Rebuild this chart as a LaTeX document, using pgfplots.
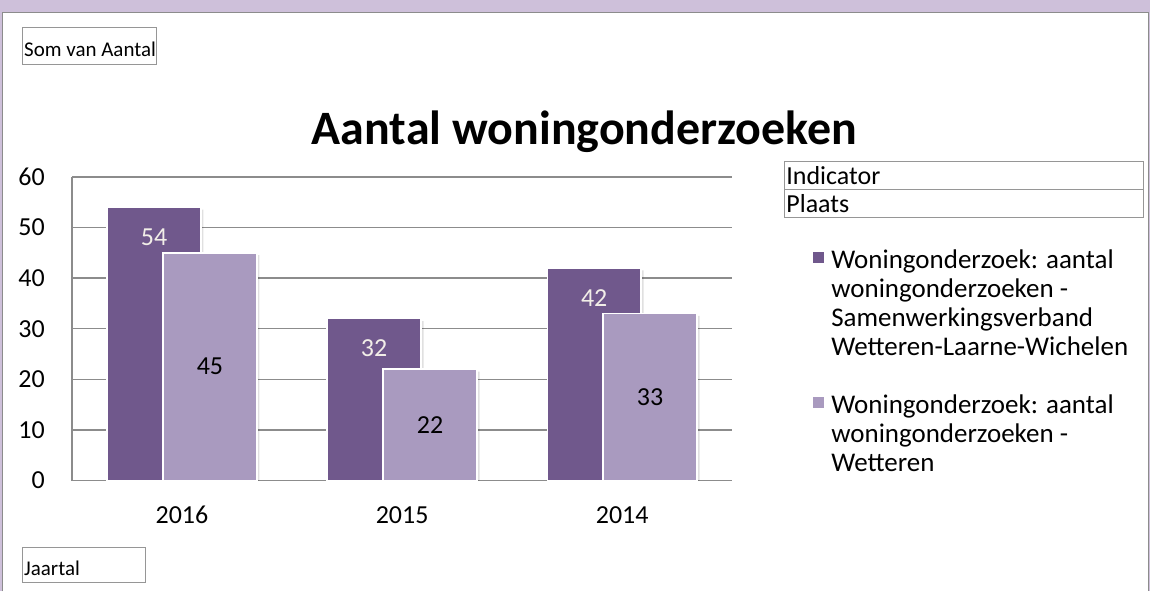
\documentclass[border=0pt]{standalone}
\usepackage{fontspec}
\setmainfont{Carlito}
\usepackage{pgfplots}
\pgfplotsset{compat=1.18}
\definecolor{dark}{RGB}{112,88,140}
\definecolor{light}{RGB}{169,154,191}
\definecolor{band}{RGB}{206,192,218}
\definecolor{gridc}{RGB}{140,140,140}
\definecolor{boxc}{RGB}{150,150,150}
\definecolor{lab}{RGB}{242,238,232}
\begin{document}
\begin{tikzpicture}
\fill[band] (0,0) rectangle (1151pt,-592pt);
\fill[white] (3pt,-13pt) rectangle (1149pt,-592pt);
\draw[gridc, line width=1.5pt] (2.5pt,-592pt) -- (2.5pt,-12.5pt) -- (1149.5pt,-12.5pt) -- (1149.5pt,-592pt);
% field buttons
\draw[boxc, line width=1pt] (23pt,-28pt) rectangle (157pt,-65pt);
\node[anchor=base west, inner sep=0pt, font=\fontsize{21}{25}\selectfont] at (24pt,-57pt) {Som van Aantal};
\draw[boxc, line width=1pt] (23pt,-548pt) rectangle (146pt,-583pt);
\node[anchor=base west, inner sep=0pt, font=\fontsize{21}{25}\selectfont] at (24pt,-576pt) {Jaartal};
\draw[boxc, line width=1pt] (785pt,-162pt) rectangle (1145pt,-190pt);
\draw[boxc, line width=1pt] (785pt,-190pt) rectangle (1145pt,-218pt);
\node[anchor=base west, inner sep=0pt, font=\fontsize{26}{29}\selectfont] at (787pt,-185pt) {Indicator};
\node[anchor=base west, inner sep=0pt, font=\fontsize{26}{29}\selectfont] at (787pt,-213pt) {Plaats};
% title
\node[anchor=base, inner sep=0pt, font=\fontsize{48}{56}\selectfont\bfseries] at (585pt,-145pt) {Aantal woningonderzoeken};
% legend
\fill[dark] (814pt,-263pt) rectangle (825pt,-252pt);
\node[anchor=base west, inner sep=0pt, font=\fontsize{27}{29}\selectfont] at (832pt,-269pt)
  {\parbox[t]{320pt}{\raggedright Woningonderzoek: aantal\\woningonderzoeken -\\Samenwerkingsverband\\Wetteren-Laarne-Wichelen}};
\fill[light] (814pt,-408pt) rectangle (825pt,-397pt);
\node[anchor=base west, inner sep=0pt, font=\fontsize{27}{29}\selectfont] at (832pt,-414pt)
  {\parbox[t]{320pt}{\raggedright Woningonderzoek: aantal\\woningonderzoeken -\\Wetteren}};
\begin{axis}[
  scale only axis, width=661pt, height=304pt,
  at={(72pt,-481pt)}, anchor=south west,
  xmin=-0.5, xmax=2.5, ymin=0, ymax=60,
  xtick={0,1,2}, xticklabels={2016,2015,2014},
  ytick={0,10,...,60},
  axis x line=bottom, axis y line=left,
  axis line style={-, gridc, line width=1.5pt},
  ymajorgrids, grid style={gridc, line width=1.5pt},
  major tick length=0pt,
  /pgf/number format/assume math mode=true,
  tick label style={font=\fontsize{26}{30}\selectfont, inner sep=0pt},
  yticklabel style={anchor=east, xshift=-27pt},
  xticklabel style={anchor=base, yshift=-43pt},
]
\addplot[ybar, bar width=94pt, bar shift=-28pt, fill=dark, draw=white, line width=1.5pt,
  preaction={fill=black, fill opacity=0.12, draw=none, transform canvas={xshift=2.5pt, yshift=-2.5pt}},
  nodes near coords,
  nodes near coords style={anchor=center, xshift=-28pt, yshift=-30pt, text=lab, font=\fontsize{26}{30}\selectfont}]
  coordinates {(0,54) (1,32) (2,42)};
\addplot[ybar, bar width=94pt, bar shift=28pt, fill=light, draw=white, line width=1.5pt,
  preaction={fill=black, fill opacity=0.12, draw=none, transform canvas={xshift=2.5pt, yshift=-2.5pt}}]
  coordinates {(0,45) (1,22) (2,33)};
\addplot[forget plot, draw=none, mark=none, nodes near coords, point meta=explicit symbolic,
  nodes near coords style={anchor=center, xshift=28pt, text=black, font=\fontsize{26}{30}\selectfont}]
  coordinates {(0,22.5)[45] (1,11)[22] (2,16.5)[33]};
\end{axis}
\end{tikzpicture}
\end{document}
